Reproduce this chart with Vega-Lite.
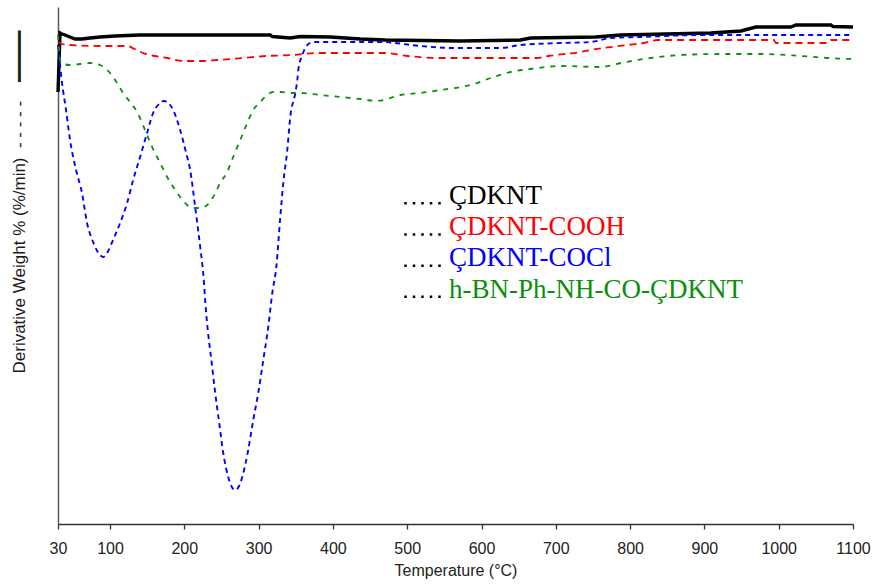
{
  "$schema": "https://vega.github.io/schema/vega-lite/v6.json",
  "width": 795,
  "height": 517,
  "autosize": {"type": "none"},
  "padding": {"left": 58, "top": 7, "right": 22, "bottom": 62},
  "background": "white",
  "config": {"view": {"stroke": null}},
  "datasets": {
    "dtg": [
      {"s":"ÇDKNT","T":30,"v":431},{"s":"ÇDKNT","T":32.7,"v":490},{"s":"ÇDKNT","T":35.4,"v":489},{"s":"ÇDKNT","T":39.4,"v":488},{"s":"ÇDKNT","T":46.2,"v":486},{"s":"ÇDKNT","T":52.9,"v":484},{"s":"ÇDKNT","T":62.3,"v":484},{"s":"ÇDKNT","T":73.1,"v":485},{"s":"ÇDKNT","T":86.6,"v":486},{"s":"ÇDKNT","T":106.8,"v":487},{"s":"ÇDKNT","T":140,"v":488},{"s":"ÇDKNT","T":174.2,"v":488},{"s":"ÇDKNT","T":250,"v":488},{"s":"ÇDKNT","T":315.7,"v":488},{"s":"ÇDKNT","T":318.4,"v":486.5},{"s":"ÇDKNT","T":342.6,"v":485},{"s":"ÇDKNT","T":356.1,"v":486.5},{"s":"ÇDKNT","T":396.5,"v":486},{"s":"ÇDKNT","T":437,"v":484},{"s":"ÇDKNT","T":470.7,"v":483},{"s":"ÇDKNT","T":571.7,"v":482},{"s":"ÇDKNT","T":652.6,"v":483},{"s":"ÇDKNT","T":666.1,"v":485},{"s":"ÇDKNT","T":753.7,"v":486},{"s":"ÇDKNT","T":787.4,"v":488},{"s":"ÇDKNT","T":908.6,"v":490},{"s":"ÇDKNT","T":949.1,"v":492},{"s":"ÇDKNT","T":969.3,"v":496},{"s":"ÇDKNT","T":1016.4,"v":496},{"s":"ÇDKNT","T":1023.2,"v":498},{"s":"ÇDKNT","T":1070.4,"v":498},{"s":"ÇDKNT","T":1073.1,"v":496.5},{"s":"ÇDKNT","T":1100,"v":496},

      {"s":"ÇDKNT-COOH","T":30,"v":481},{"s":"ÇDKNT-COOH","T":35.4,"v":479},{"s":"ÇDKNT-COOH","T":46.2,"v":478},{"s":"ÇDKNT-COOH","T":86.6,"v":477},{"s":"ÇDKNT-COOH","T":123,"v":477},{"s":"ÇDKNT-COOH","T":133,"v":474},{"s":"ÇDKNT-COOH","T":144.5,"v":470},{"s":"ÇDKNT-COOH","T":160,"v":467},{"s":"ÇDKNT-COOH","T":176.9,"v":465},{"s":"ÇDKNT-COOH","T":198.5,"v":462},{"s":"ÇDKNT-COOH","T":220,"v":462},{"s":"ÇDKNT-COOH","T":244.3,"v":463},{"s":"ÇDKNT-COOH","T":279.3,"v":465},{"s":"ÇDKNT-COOH","T":310,"v":467},{"s":"ÇDKNT-COOH","T":346.7,"v":468},{"s":"ÇDKNT-COOH","T":380,"v":470},{"s":"ÇDKNT-COOH","T":470,"v":470},{"s":"ÇDKNT-COOH","T":500,"v":467},{"s":"ÇDKNT-COOH","T":544.8,"v":465},{"s":"ÇDKNT-COOH","T":674.6,"v":465},{"s":"ÇDKNT-COOH","T":690,"v":467},{"s":"ÇDKNT-COOH","T":733.4,"v":471},{"s":"ÇDKNT-COOH","T":746.9,"v":473},{"s":"ÇDKNT-COOH","T":796.7,"v":478},{"s":"ÇDKNT-COOH","T":818.3,"v":480},{"s":"ÇDKNT-COOH","T":837.2,"v":483},{"s":"ÇDKNT-COOH","T":993.5,"v":483},{"s":"ÇDKNT-COOH","T":996.2,"v":480},{"s":"ÇDKNT-COOH","T":1066.3,"v":480},{"s":"ÇDKNT-COOH","T":1070.4,"v":483},{"s":"ÇDKNT-COOH","T":1100,"v":483},

      {"s":"ÇDKNT-COCl","T":30,"v":478},{"s":"ÇDKNT-COCl","T":35.4,"v":440},{"s":"ÇDKNT-COCl","T":36.7,"v":433},{"s":"ÇDKNT-COCl","T":40.8,"v":413},{"s":"ÇDKNT-COCl","T":46.2,"v":383},{"s":"ÇDKNT-COCl","T":54.3,"v":353},{"s":"ÇDKNT-COCl","T":62.3,"v":330},{"s":"ÇDKNT-COCl","T":69.1,"v":300},{"s":"ÇDKNT-COCl","T":77.2,"v":281},{"s":"ÇDKNT-COCl","T":86.6,"v":268},{"s":"ÇDKNT-COCl","T":91,"v":266},{"s":"ÇDKNT-COCl","T":96,"v":270},{"s":"ÇDKNT-COCl","T":104.1,"v":283},{"s":"ÇDKNT-COCl","T":113.6,"v":300},{"s":"ÇDKNT-COCl","T":123,"v":320},{"s":"ÇDKNT-COCl","T":131.1,"v":343},{"s":"ÇDKNT-COCl","T":140.5,"v":366},{"s":"ÇDKNT-COCl","T":149.9,"v":390},{"s":"ÇDKNT-COCl","T":158,"v":410},{"s":"ÇDKNT-COCl","T":167.5,"v":420},{"s":"ÇDKNT-COCl","T":172,"v":422},{"s":"ÇDKNT-COCl","T":176.9,"v":421},{"s":"ÇDKNT-COCl","T":185,"v":413},{"s":"ÇDKNT-COCl","T":194.4,"v":393},{"s":"ÇDKNT-COCl","T":202.5,"v":370},{"s":"ÇDKNT-COCl","T":207.9,"v":353},{"s":"ÇDKNT-COCl","T":214.6,"v":316},{"s":"ÇDKNT-COCl","T":221.4,"v":276},{"s":"ÇDKNT-COCl","T":225.4,"v":250},{"s":"ÇDKNT-COCl","T":229.4,"v":210},{"s":"ÇDKNT-COCl","T":237.5,"v":156},{"s":"ÇDKNT-COCl","T":241.6,"v":130},{"s":"ÇDKNT-COCl","T":247,"v":100},{"s":"ÇDKNT-COCl","T":252.4,"v":70},{"s":"ÇDKNT-COCl","T":259.1,"v":46},{"s":"ÇDKNT-COCl","T":264,"v":36},{"s":"ÇDKNT-COCl","T":268.5,"v":33},{"s":"ÇDKNT-COCl","T":273,"v":36},{"s":"ÇDKNT-COCl","T":278,"v":46},{"s":"ÇDKNT-COCl","T":286,"v":73},{"s":"ÇDKNT-COCl","T":292.8,"v":103},{"s":"ÇDKNT-COCl","T":299.5,"v":130},{"s":"ÇDKNT-COCl","T":306.3,"v":163},{"s":"ÇDKNT-COCl","T":313,"v":196},{"s":"ÇDKNT-COCl","T":318.4,"v":230},{"s":"ÇDKNT-COCl","T":323.8,"v":256},{"s":"ÇDKNT-COCl","T":329.2,"v":306},{"s":"ÇDKNT-COCl","T":333.2,"v":340},{"s":"ÇDKNT-COCl","T":338.6,"v":373},{"s":"ÇDKNT-COCl","T":342.6,"v":406},{"s":"ÇDKNT-COCl","T":349.4,"v":430},{"s":"ÇDKNT-COCl","T":352.1,"v":443},{"s":"ÇDKNT-COCl","T":353.4,"v":453},{"s":"ÇDKNT-COCl","T":358.8,"v":468},{"s":"ÇDKNT-COCl","T":365.6,"v":478},{"s":"ÇDKNT-COCl","T":373.6,"v":481},{"s":"ÇDKNT-COCl","T":464,"v":481},{"s":"ÇDKNT-COCl","T":517.8,"v":477},{"s":"ÇDKNT-COCl","T":562.3,"v":475},{"s":"ÇDKNT-COCl","T":625.6,"v":475},{"s":"ÇDKNT-COCl","T":652.6,"v":478},{"s":"ÇDKNT-COCl","T":706.5,"v":480},{"s":"ÇDKNT-COCl","T":746.9,"v":481},{"s":"ÇDKNT-COCl","T":773.9,"v":485},{"s":"ÇDKNT-COCl","T":814.3,"v":486},{"s":"ÇDKNT-COCl","T":895.2,"v":488},{"s":"ÇDKNT-COCl","T":1100,"v":488},

      {"s":"h-BN-Ph-NH-CO-ÇDKNT","T":30,"v":488},{"s":"h-BN-Ph-NH-CO-ÇDKNT","T":34,"v":460},{"s":"h-BN-Ph-NH-CO-ÇDKNT","T":46.2,"v":458},{"s":"h-BN-Ph-NH-CO-ÇDKNT","T":59.6,"v":459},{"s":"h-BN-Ph-NH-CO-ÇDKNT","T":73.1,"v":460},{"s":"h-BN-Ph-NH-CO-ÇDKNT","T":86.6,"v":458},{"s":"h-BN-Ph-NH-CO-ÇDKNT","T":93.3,"v":455},{"s":"h-BN-Ph-NH-CO-ÇDKNT","T":100.1,"v":450},{"s":"h-BN-Ph-NH-CO-ÇDKNT","T":109.5,"v":440},{"s":"h-BN-Ph-NH-CO-ÇDKNT","T":117.6,"v":430},{"s":"h-BN-Ph-NH-CO-ÇDKNT","T":127,"v":421},{"s":"h-BN-Ph-NH-CO-ÇDKNT","T":136.5,"v":411},{"s":"h-BN-Ph-NH-CO-ÇDKNT","T":143.2,"v":400},{"s":"h-BN-Ph-NH-CO-ÇDKNT","T":149.9,"v":388},{"s":"h-BN-Ph-NH-CO-ÇDKNT","T":156.7,"v":376},{"s":"h-BN-Ph-NH-CO-ÇDKNT","T":163.4,"v":366},{"s":"h-BN-Ph-NH-CO-ÇDKNT","T":170.2,"v":356},{"s":"h-BN-Ph-NH-CO-ÇDKNT","T":176.9,"v":346},{"s":"h-BN-Ph-NH-CO-ÇDKNT","T":185,"v":336},{"s":"h-BN-Ph-NH-CO-ÇDKNT","T":194.4,"v":326},{"s":"h-BN-Ph-NH-CO-ÇDKNT","T":203.8,"v":318},{"s":"h-BN-Ph-NH-CO-ÇDKNT","T":211.9,"v":315},{"s":"h-BN-Ph-NH-CO-ÇDKNT","T":221.4,"v":315},{"s":"h-BN-Ph-NH-CO-ÇDKNT","T":230.8,"v":318},{"s":"h-BN-Ph-NH-CO-ÇDKNT","T":238.9,"v":326},{"s":"h-BN-Ph-NH-CO-ÇDKNT","T":248.3,"v":340},{"s":"h-BN-Ph-NH-CO-ÇDKNT","T":257.7,"v":351},{"s":"h-BN-Ph-NH-CO-ÇDKNT","T":265.8,"v":366},{"s":"h-BN-Ph-NH-CO-ÇDKNT","T":275.3,"v":383},{"s":"h-BN-Ph-NH-CO-ÇDKNT","T":284.7,"v":400},{"s":"h-BN-Ph-NH-CO-ÇDKNT","T":292.8,"v":413},{"s":"h-BN-Ph-NH-CO-ÇDKNT","T":302.2,"v":421},{"s":"h-BN-Ph-NH-CO-ÇDKNT","T":311.6,"v":428},{"s":"h-BN-Ph-NH-CO-ÇDKNT","T":319.7,"v":431},{"s":"h-BN-Ph-NH-CO-ÇDKNT","T":329.2,"v":431},{"s":"h-BN-Ph-NH-CO-ÇDKNT","T":342.6,"v":430},{"s":"h-BN-Ph-NH-CO-ÇDKNT","T":356.1,"v":430},{"s":"h-BN-Ph-NH-CO-ÇDKNT","T":383.1,"v":428},{"s":"h-BN-Ph-NH-CO-ÇDKNT","T":410,"v":426},{"s":"h-BN-Ph-NH-CO-ÇDKNT","T":437,"v":424},{"s":"h-BN-Ph-NH-CO-ÇDKNT","T":459.9,"v":422},{"s":"h-BN-Ph-NH-CO-ÇDKNT","T":477.4,"v":425},{"s":"h-BN-Ph-NH-CO-ÇDKNT","T":490.9,"v":428},{"s":"h-BN-Ph-NH-CO-ÇDKNT","T":517.8,"v":430},{"s":"h-BN-Ph-NH-CO-ÇDKNT","T":544.8,"v":433},{"s":"h-BN-Ph-NH-CO-ÇDKNT","T":571.7,"v":436},{"s":"h-BN-Ph-NH-CO-ÇDKNT","T":585.2,"v":438},{"s":"h-BN-Ph-NH-CO-ÇDKNT","T":612.2,"v":445},{"s":"h-BN-Ph-NH-CO-ÇDKNT","T":639.1,"v":451},{"s":"h-BN-Ph-NH-CO-ÇDKNT","T":666.1,"v":454},{"s":"h-BN-Ph-NH-CO-ÇDKNT","T":706.5,"v":457},{"s":"h-BN-Ph-NH-CO-ÇDKNT","T":760.4,"v":456},{"s":"h-BN-Ph-NH-CO-ÇDKNT","T":787.4,"v":460},{"s":"h-BN-Ph-NH-CO-ÇDKNT","T":827.8,"v":465},{"s":"h-BN-Ph-NH-CO-ÇDKNT","T":868.2,"v":468},{"s":"h-BN-Ph-NH-CO-ÇDKNT","T":922.1,"v":469},{"s":"h-BN-Ph-NH-CO-ÇDKNT","T":976,"v":469},{"s":"h-BN-Ph-NH-CO-ÇDKNT","T":1030,"v":467},{"s":"h-BN-Ph-NH-CO-ÇDKNT","T":1066.3,"v":465},{"s":"h-BN-Ph-NH-CO-ÇDKNT","T":1100,"v":464}
    ]
  },
  "data": {"name": "dtg"},
  "encoding": {
    "x": {
      "field": "T", "type": "quantitative",
      "scale": {"domain": [30, 1100], "nice": false, "zero": false},
      "axis": {
        "title": "Temperature (°C)",
        "values": [30, 100, 200, 300, 400, 500, 600, 700, 800, 900, 1000, 1100],
        "format": "d",
        "grid": false,
        "domainColor": "#333333", "domainWidth": 1.5,
        "tickColor": "#333333", "tickWidth": 1.3, "tickSize": 5,
        "labelFont": "Liberation Sans", "labelFontSize": 16, "labelColor": "#222222",
        "labelPadding": 11, "labelOverlap": false, "labelFlush": false,
        "titleFont": "Liberation Sans", "titleFontSize": 16, "titleFontWeight": "normal",
        "titleColor": "#222222", "titlePadding": 6
      }
    },
    "y": {
      "field": "v", "type": "quantitative",
      "scale": {"domain": [-1, 516], "nice": false, "zero": false},
      "axis": {
        "title": "Derivative Weight % (%/min)\u00a0 - - - - -\u00a0\u00a0\u00a0 ━━━━━",
        "labels": false, "ticks": false, "grid": false,
        "domainColor": "#5a5a5a", "domainWidth": 1.5,
        "titleFont": "Liberation Sans, DejaVu Sans", "titleFontSize": 17, "titleFontWeight": "normal",
        "titleColor": "#1a1a1a", "titleAlign": "left", "titleY": 366, "titlePadding": 30
      }
    },
    "color": {
      "field": "s", "type": "nominal",
      "scale": {
        "domain": ["ÇDKNT", "ÇDKNT-COOH", "ÇDKNT-COCl", "h-BN-Ph-NH-CO-ÇDKNT"],
        "range": ["#000000", "#ff0000", "#0000ff", "#0a900a"]
      },
      "legend": {
        "title": null,
        "orient": "none",
        "legendX": 358,
        "legendY": 175.5,
        "padding": 0,
        "direction": "vertical",
        "rowPadding": 3.2,
        "labelFont": "Liberation Serif",
        "labelFontSize": 27,
        "labelLimit": 0,
        "labelOffset": 6,
        "symbolSize": 4,
        "symbolType": "M-25.25,6h2.5v2.5h-2.5z M-16.75,6h2.5v2.5h-2.5z M-8.25,6h2.5v2.5h-2.5z M0.25,6h2.5v2.5h-2.5z M8.75,6h2.5v2.5h-2.5z",
        "symbolFillColor": "#000000",
        "symbolStrokeWidth": 0,
        "encode": {
          "labels": {"update": {"fill": {"scale": "color", "field": "value"}}},
          "symbols": {"update": {"fill": {"value": "#000000"}, "stroke": {"value": "transparent"}, "strokeWidth": {"value": 0}, "opacity": {"value": 1}}}
        }
      }
    }
  },
  "layer": [
    {
      "transform": [{"filter": "datum.s === 'ÇDKNT'"}],
      "mark": {"type": "line", "strokeWidth": 3.4, "interpolate": "linear"}
    },
    {
      "transform": [{"filter": "datum.s === 'ÇDKNT-COOH'"}],
      "mark": {"type": "line", "strokeWidth": 1.8, "strokeDash": [7, 5], "interpolate": "monotone"}
    },
    {
      "transform": [{"filter": "datum.s === 'ÇDKNT-COCl'"}],
      "mark": {"type": "line", "strokeWidth": 1.9, "strokeDash": [5, 4], "interpolate": "monotone"}
    },
    {
      "transform": [{"filter": "datum.s === 'h-BN-Ph-NH-CO-ÇDKNT'"}],
      "mark": {"type": "line", "strokeWidth": 1.8, "strokeDash": [5, 6], "interpolate": "monotone"}
    }
  ]
}
